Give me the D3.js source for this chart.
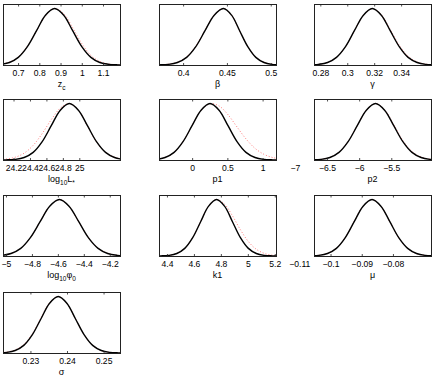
<!DOCTYPE html>
<html lang="en">
<head>
<meta charset="UTF-8">
<title>Marginal posteriors</title>
<script src="https://d3js.org/d3.v7.min.js"></script>
<style>
  body { margin: 0; background: #fff; }
  text { font-family: "Liberation Sans", Arial, Helvetica, sans-serif; fill: #000; }
</style>
</head>
<body>
<script>
// axis labels, "_" marks a subscript piece
var axisLabels = [
  ["z", "_c"], ["β"], ["γ"],
  ["log", "_10", "L", "_*"], ["p1"], ["p2"],
  ["log", "_10", "φ", "_0"], ["k1"], ["μ"],
  ["σ"]
];

var xDomains = [
  [0.629, 1.180], [0.3725, 0.506], [0.2753, 0.3622],
  [24.072, 25.495], [-0.47, 1.19], [-6.703, -4.882],
  [-5.023, -4.121], [4.341, 5.209], [-0.1053, -0.0678],
  [0.2225, 0.2545]
];

var tickVals = [
  [0.7, 0.8, 0.9, 1, 1.1], [0.4, 0.45, 0.5], [0.28, 0.3, 0.32, 0.34],
  [24.2, 24.4, 24.6, 24.8, 25], [0, 0.5, 1], [-7, -6.5, -6, -5.5],
  [-5, -4.8, -4.6, -4.4, -4.2], [4.4, 4.6, 4.8, 5, 5.2], [-0.11, -0.1, -0.09, -0.08],
  [0.23, 0.24, 0.25]
];

// sample positions along each parameter
var xs = [
  [0.531, 0.573, 0.616, 0.659, 0.701, 0.744, 0.787, 0.829, 0.872, 0.915, 0.957, 1.000, 1.043, 1.085, 1.128, 1.171, 1.213],
  [0.362, 0.3725, 0.383, 0.3935, 0.404, 0.4145, 0.425, 0.4355, 0.446, 0.4553, 0.4645, 0.4738, 0.483, 0.4923, 0.5015, 0.5108, 0.520],
  [0.2654, 0.2721, 0.2787, 0.2854, 0.292, 0.2987, 0.3053, 0.312, 0.3186, 0.3253, 0.3319, 0.3386, 0.3452, 0.3519, 0.3585, 0.3652, 0.3718],
  [23.999, 24.109, 24.219, 24.329, 24.439, 24.549, 24.659, 24.769, 24.879, 24.989, 25.099, 25.209, 25.319, 25.429, 25.539, 25.649, 25.759],
  [-0.766, -0.639, -0.511, -0.384, -0.256, -0.129, -0.001, 0.127, 0.254, 0.382, 0.509, 0.637, 0.764, 0.892, 1.019, 1.147, 1.274],
  [-6.882, -6.740, -6.598, -6.456, -6.314, -6.172, -6.030, -5.888, -5.746, -5.604, -5.462, -5.320, -5.178, -5.036, -4.894, -4.752, -4.610],
  [-5.184, -5.110, -5.035, -4.961, -4.886, -4.812, -4.737, -4.663, -4.588, -4.514, -4.439, -4.365, -4.290, -4.216, -4.141, -4.067, -3.992],
  [4.296, 4.355, 4.414, 4.473, 4.532, 4.591, 4.650, 4.709, 4.768, 4.827, 4.886, 4.945, 5.004, 5.063, 5.122, 5.181, 5.240],
  [-0.10954, -0.10669, -0.10383, -0.10098, -0.09812, -0.09527, -0.09241, -0.08956, -0.0867, -0.08385, -0.08099, -0.07814, -0.07528, -0.07243, -0.06957, -0.06672, -0.06386],
  [0.21876, 0.22112, 0.22347, 0.22583, 0.22818, 0.23054, 0.23289, 0.23525, 0.2376, 0.23996, 0.24231, 0.24467, 0.24702, 0.24938, 0.25173, 0.25409, 0.25644]
];

// solid black curve heights (normalised)
var blackY = [
  [0.0003, 0.0022, 0.011, 0.044, 0.135, 0.325, 0.607, 0.882, 1, 0.882, 0.607, 0.325, 0.135, 0.044, 0.011, 0.0022, 0.0003],
  [0.0003, 0.0022, 0.011, 0.044, 0.135, 0.325, 0.607, 0.882, 1, 0.882, 0.607, 0.325, 0.135, 0.044, 0.011, 0.0022, 0.0003],
  [0.0003, 0.0022, 0.011, 0.044, 0.135, 0.325, 0.607, 0.882, 1, 0.882, 0.607, 0.325, 0.135, 0.044, 0.011, 0.0022, 0.0003],
  [0.0003, 0.0022, 0.011, 0.044, 0.135, 0.325, 0.607, 0.882, 1, 0.882, 0.607, 0.325, 0.135, 0.044, 0.011, 0.0022, 0.0003],
  [0.0003, 0.0022, 0.011, 0.044, 0.135, 0.325, 0.607, 0.882, 1, 0.882, 0.607, 0.325, 0.135, 0.044, 0.011, 0.0022, 0.0003],
  [0.0003, 0.0022, 0.011, 0.044, 0.135, 0.325, 0.607, 0.882, 1, 0.882, 0.607, 0.325, 0.135, 0.044, 0.011, 0.0022, 0.0003],
  [0.0003, 0.0022, 0.011, 0.044, 0.135, 0.325, 0.607, 0.882, 1, 0.882, 0.607, 0.325, 0.135, 0.044, 0.011, 0.0022, 0.0003],
  [0.0003, 0.0022, 0.011, 0.044, 0.135, 0.325, 0.607, 0.882, 1, 0.882, 0.607, 0.325, 0.135, 0.044, 0.011, 0.0022, 0.0003],
  [0.0003, 0.0022, 0.011, 0.044, 0.135, 0.325, 0.607, 0.882, 1, 0.882, 0.607, 0.325, 0.135, 0.044, 0.011, 0.0022, 0.0003],
  [0.0003, 0.0022, 0.011, 0.044, 0.135, 0.325, 0.607, 0.882, 1, 0.882, 0.607, 0.325, 0.135, 0.044, 0.011, 0.0022, 0.0003]
];

// dotted red curve heights
var redY = [
  [0.0007, 0.003, 0.014, 0.051, 0.144, 0.334, 0.607, 0.87, 0.999, 0.908, 0.661, 0.38, 0.171, 0.063, 0.018, 0.004, 0.0008],
  [0.0005, 0.004, 0.015, 0.05, 0.145, 0.335, 0.615, 0.89, 1, 0.88, 0.6, 0.33, 0.14, 0.05, 0.014, 0.003, 0.0005],
  [0.0003, 0.002, 0.011, 0.044, 0.135, 0.325, 0.607, 0.882, 1, 0.89, 0.63, 0.35, 0.155, 0.055, 0.016, 0.004, 0.001],
  [0.0046, 0.016, 0.048, 0.121, 0.26, 0.469, 0.714, 0.919, 1, 0.88, 0.6, 0.32, 0.135, 0.05, 0.015, 0.004, 0.001],
  [0.0003, 0.0022, 0.011, 0.044, 0.135, 0.325, 0.607, 0.882, 0.995, 0.957, 0.802, 0.585, 0.374, 0.207, 0.101, 0.042, 0.016],
  [0.0003, 0.002, 0.011, 0.046, 0.14, 0.33, 0.61, 0.885, 1, 0.89, 0.625, 0.345, 0.15, 0.052, 0.015, 0.004, 0.001],
  [0.0003, 0.002, 0.012, 0.046, 0.137, 0.322, 0.61, 0.88, 1, 0.885, 0.6, 0.33, 0.14, 0.046, 0.012, 0.002, 0.0003],
  [0.0003, 0.0022, 0.011, 0.044, 0.135, 0.325, 0.607, 0.882, 1, 0.918, 0.712, 0.465, 0.256, 0.119, 0.047, 0.015, 0.0043],
  [0.0004, 0.003, 0.013, 0.047, 0.138, 0.33, 0.615, 0.885, 1, 0.88, 0.605, 0.322, 0.133, 0.043, 0.011, 0.002, 0.0003],
  [0.001, 0.004, 0.016, 0.055, 0.15, 0.34, 0.62, 0.89, 1, 0.88, 0.605, 0.325, 0.135, 0.044, 0.011, 0.002, 0.0003]
];

var W = 436, H = 382;
var colLeft = [3, 159, 314];
var rowTop = [4, 99, 195, 292];
var boxW = 117, boxH = 61;

var svg = d3.select("body").append("svg")
  .attr("width", W)
  .attr("height", H);

var fmt = d3.format("");

axisLabels.forEach(function(lab, i) {
  var g = svg.append("g")
    .attr("transform", "translate(" + colLeft[i % 3] + "," + rowTop[Math.floor(i / 3)] + ")");

  var x = d3.scaleLinear().domain(xDomains[i]).range([0, boxW]);
  var y = d3.scaleLinear().domain([0, 1.08]).range([boxH, 0]);

  g.append("clipPath").attr("id", "clip" + i)
    .append("rect").attr("width", boxW).attr("height", boxH);

  var pts = xs[i].map(function(v, j) { return [v, blackY[i][j], redY[i][j]]; });

  var lineB = d3.line()
    .x(function(d) { return x(d[0]); })
    .y(function(d) { return y(d[1]); })
    .curve(d3.curveCatmullRom);
  var lineR = d3.line()
    .x(function(d) { return x(d[0]); })
    .y(function(d) { return y(d[2]); })
    .curve(d3.curveCatmullRom);

  var plot = g.append("g").attr("clip-path", "url(#clip" + i + ")");
  plot.append("path").datum(pts)
    .attr("d", lineR)
    .attr("fill", "none")
    .attr("stroke", "#ff2020")
    .attr("stroke-opacity", 0.6)
    .attr("stroke-width", 1)
    .attr("stroke-dasharray", "1,2");
  plot.append("path").datum(pts)
    .attr("d", lineB)
    .attr("fill", "none")
    .attr("stroke", "#000")
    .attr("stroke-width", 1.4);

  // box
  g.append("rect")
    .attr("x", 0.5).attr("y", 0.5)
    .attr("width", boxW).attr("height", boxH)
    .attr("fill", "none")
    .attr("stroke", "#222")
    .attr("stroke-width", 1);

  // tick labels
  var ax = g.append("g")
    .attr("transform", "translate(0," + boxH + ")")
    .call(d3.axisBottom(x).tickValues(tickVals[i]).tickSize(0).tickPadding(5).tickFormat(fmt));
  ax.select(".domain").remove();
  ax.selectAll("text")
    .style("font-family", "'Liberation Sans', Arial, sans-serif")
    .style("font-size", "8.6px")
    .attr("fill", "#000");

  // inward tick marks, bottom and top
  var inside = tickVals[i].filter(function(t) { return t >= xDomains[i][0] && t <= xDomains[i][1]; });
  g.selectAll(".tb").data(inside).enter().append("line")
    .attr("x1", function(d) { return x(d) + 0.5; }).attr("x2", function(d) { return x(d) + 0.5; })
    .attr("y1", boxH).attr("y2", boxH - 2)
    .attr("stroke", "#222").attr("stroke-width", 0.8);
  g.selectAll(".tt").data(inside).enter().append("line")
    .attr("x1", function(d) { return x(d) + 0.5; }).attr("x2", function(d) { return x(d) + 0.5; })
    .attr("y1", 0.5).attr("y2", 2.5)
    .attr("stroke", "#222").attr("stroke-width", 0.8);

  // axis label
  var t = g.append("text")
    .attr("x", boxW / 2)
    .attr("y", boxH + 22)
    .attr("text-anchor", "middle")
    .style("font-size", "9px");
  var down = false;
  lab.forEach(function(part) {
    var isSub = part.charAt(0) === "_";
    var ts = t.append("tspan").text(isSub ? part.slice(1) : part);
    if (isSub) {
      ts.style("font-size", "6.5px").attr("dy", down ? 0 : 3);
      down = true;
    } else if (down) {
      ts.attr("dy", -3);
      down = false;
    }
  });
});
</script>
</body>
</html>
